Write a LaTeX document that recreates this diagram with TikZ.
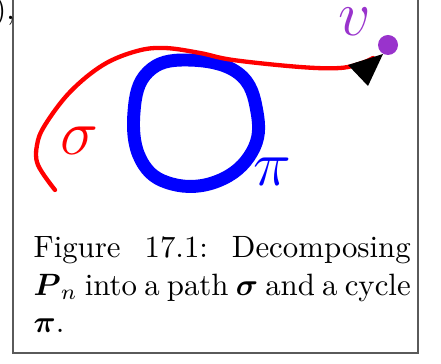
\documentclass[tikz,border=0pt]{standalone}
\usepackage{xcolor}
\definecolor{vpurple}{RGB}{153,51,204}
\definecolor{framegray}{RGB}{90,90,90}
\tikzset{
  cyclepath/.style={draw=blue, line width=4.2pt, line join=round},
  sigmapath/.style={draw=red, line width=1.4pt, line cap=round},
  label/.style={inner sep=0pt, anchor=base, font=\fontsize{20}{24}\selectfont},
  framebox/.style={draw=framegray, line width=0.4pt},
}
\begin{document}
\begin{tikzpicture}[x=0.3243pt, y=-0.3243pt]
\useasboundingbox (0,0) rectangle (441,364);
% frame (top cut off)
\draw[framebox] (13,-20) -- (13,353) -- (418,353) -- (418,-20);
% partial preceding text
\node[inner sep=0pt, anchor=base east] (prev) at (15.5,19.5) {),};
% blue cycle
\draw[cyclepath] plot[smooth cycle, tension=0.7] coordinates {(187,60) (238,73) (257,112) (252,152) (218,181) (172,184) (141,160) (134,112) (148,72)};
% red path
\coordinate (s0) at (55,190);
\coordinate (s1) at (373,58);
\draw[sigmapath] plot[smooth, tension=0.6] coordinates {(55,190) (38,165) (37,145) (45,125) (70,92) (103,65) (137,51) (165,48) (200,53) (233,60) (300,67) (340,68) (362,63) (373,58)};
% arrowhead and vertex
\fill[black] (348,65) -- (368,86) -- (383,54) -- cycle;
\fill[vpurple] (388,45) circle (10);
\node[label, text=vpurple] (v) at (355,36) {$v$};
\node[label, text=red] (sigma) at (79,155) {$\sigma$};
\node[label, text=blue] (pi) at (272,186) {$\pi$};
% caption
\node[inner sep=0pt, anchor=base west] (cap) at (33,258) {\parbox[t]{122.3pt}{Figure 17.1:\ Decomposing\linebreak {\boldmath$P$}$_n$ into a path {\boldmath$\sigma$} and a cycle\linebreak {\boldmath$\pi$}.}};
\end{tikzpicture}
\end{document}
